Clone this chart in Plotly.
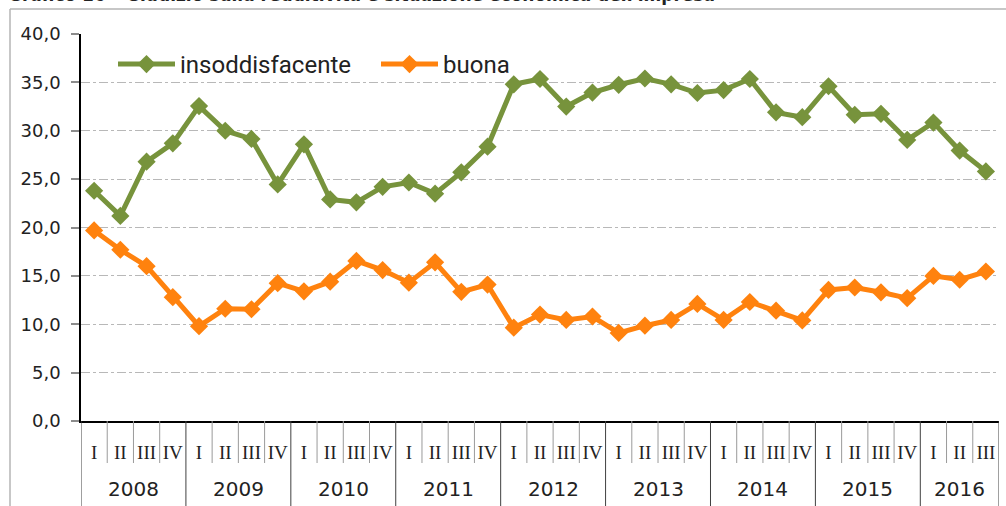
import plotly.graph_objects as go

years = ["2008", "2009", "2010", "2011", "2012", "2013", "2014", "2015", "2016"]
quarters = ["I", "II", "III", "IV"]
n_quarters_last = 3

insoddisfacente = [23.8, 21.2, 26.8, 28.7,
                   32.55, 30.0, 29.15, 24.45,
                   28.6, 22.9, 22.6, 24.2,
                   24.65, 23.5, 25.7, 28.35,
                   34.8, 35.35, 32.5, 33.95,
                   34.75, 35.4, 34.8, 33.9,
                   34.2, 35.35, 31.9, 31.4,
                   34.6, 31.65, 31.75, 29.05,
                   30.85, 27.95, 25.8]
buona = [19.7, 17.7, 16.0, 12.8,
         9.8, 11.6, 11.55, 14.25,
         13.4, 14.4, 16.55, 15.6,
         14.3, 16.4, 13.35, 14.1,
         9.65, 11.0, 10.45, 10.8,
         9.1, 9.85, 10.45, 12.1,
         10.45, 12.3, 11.4, 10.4,
         13.55, 13.8, 13.3, 12.7,
         15.0, 14.6, 15.45]

title_text = "Grafico 16 \u2013 Giudizio sulla redditività e situazione economica dell'impresa"

# category positions
labels = []
year_of = []
for y in years:
    nq = 4 if y != years[-1] else n_quarters_last
    for q in quarters[:nq]:
        labels.append(q)
        year_of.append(y)
xs = list(range(len(labels)))

GREEN = "#77933C"
ORANGE = "#FF820E"

fig = go.Figure()
fig.add_trace(go.Scatter(x=xs, y=insoddisfacente, name="insoddisfacente",
                         mode="lines+markers",
                         line=dict(color=GREEN, width=5),
                         marker=dict(symbol="diamond", size=14, color=GREEN)))
fig.add_trace(go.Scatter(x=xs, y=buona, name="buona",
                         mode="lines+markers",
                         line=dict(color=ORANGE, width=5),
                         marker=dict(symbol="diamond", size=14, color=ORANGE)))

W, H = 1006, 506
ml, mr, mt, mb = 81, 7, 34, 85
pw, ph = W - ml - mr, H - mt - mb


def py(pix):
    return (H - mb - pix) / ph


def px(pix):
    return (pix - ml) / pw


shapes = []
# separators under the axis
for k in range(len(labels) + 1):
    xpos = k - 0.5
    is_year = (k == 0) or (k == len(labels)) or (year_of[k] != year_of[k - 1])
    if is_year:
        shapes.append(dict(type="line", xref="x", yref="paper", x0=xpos, x1=xpos,
                           y0=0, y1=py(520), line=dict(color="#404040", width=1)))
    else:
        shapes.append(dict(type="line", xref="x", yref="paper", x0=xpos, x1=xpos,
                           y0=0, y1=py(463), line=dict(color="#9a9a9a", width=1)))
# outer frame
shapes.append(dict(type="line", xref="paper", yref="paper", x0=px(10), x1=px(1020),
                   y0=py(9), y1=py(9), line=dict(color="#b4b4b4", width=1.5)))
shapes.append(dict(type="line", xref="paper", yref="paper", x0=px(10), x1=px(10),
                   y0=py(9), y1=py(520), line=dict(color="#b4b4b4", width=1.5)))

annotations = []
for y in years:
    idx = [i for i, yy in enumerate(year_of) if yy == y]
    annotations.append(dict(x=(idx[0] + idx[-1]) / 2, y=py(489), xref="x", yref="paper",
                            text=y, showarrow=False, yanchor="middle",
                            font=dict(family="DejaVu Sans", size=20, color="#222")))
annotations.append(dict(x=px(6), y=py(7.3), xref="paper", yref="paper", xanchor="left",
                        yanchor="bottom", text="<b>" + title_text + "</b>", showarrow=False,
                        font=dict(family="DejaVu Sans", size=17, color="#222")))

fig.update_layout(
    width=W, height=H,
    margin=dict(l=ml, r=mr, t=mt, b=mb),
    paper_bgcolor="white", plot_bgcolor="white",
    separators=",.",
    showlegend=True,
    legend=dict(orientation="h", x=px(113), y=py(42), xanchor="left", yanchor="top",
                itemwidth=57, entrywidth=191, entrywidthmode="pixels",
                font=dict(family="Roboto", size=24, color="#222"),
                bgcolor="rgba(0,0,0,0)", tracegroupgap=0),
    xaxis=dict(range=[-0.5, len(labels) - 0.5], tickvals=xs, ticktext=labels,
               showgrid=False, zeroline=False, showline=True, linecolor="black",
               linewidth=1.5, ticks="", ticklabelstandoff=13,
               tickfont=dict(family="Liberation Serif", size=19, color="#222")),
    yaxis=dict(range=[0, 40], dtick=5, tick0=0, tickformat=".1f",
               showgrid=True, gridcolor="#b8b8b8", griddash="dashdot", gridwidth=1,
               zeroline=False, showline=True, linecolor="black", linewidth=1.5,
               ticks="outside", ticklen=8, tickcolor="#8c8c8c", tickwidth=1.5,
               ticklabelstandoff=7,
               tickfont=dict(family="DejaVu Sans", size=18, color="#222")),
    shapes=shapes,
    annotations=annotations,
)

fig.write_html("out.html", config={"displayModeBar": False},
               post_script="document.body.style.margin='0';document.body.style.padding='0';")
